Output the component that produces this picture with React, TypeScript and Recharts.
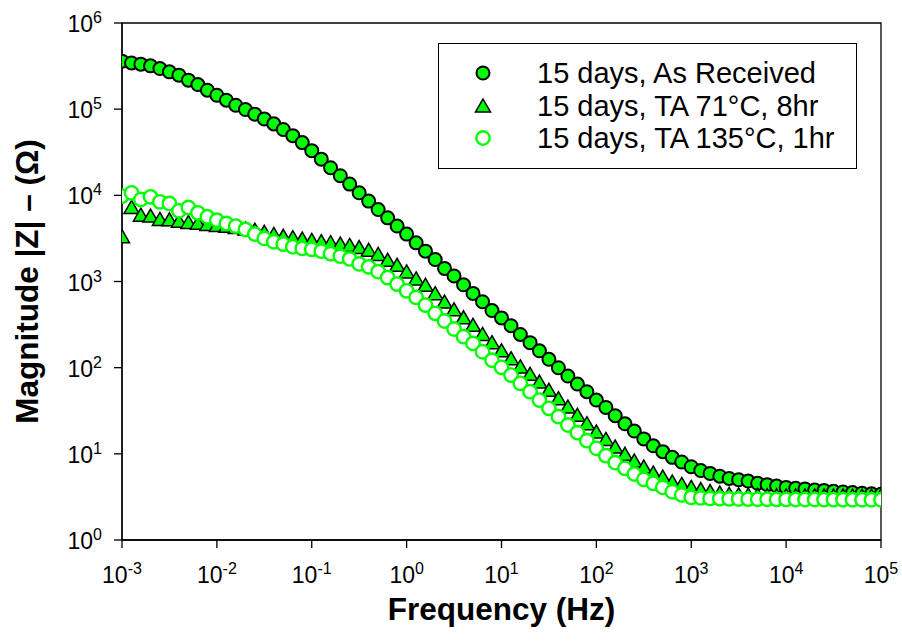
import React from 'react';
import {
  ScatterChart,
  Scatter,
  XAxis,
  YAxis,
  ReferenceArea,
  Legend,
} from 'recharts';

const FONT = '"Liberation Sans", Arial, sans-serif';

// frequency sweep, 10 points per decade (Hz)
const freqHz = [
  1e-3, 1.26e-3, 1.58e-3, 2e-3, 2.51e-3, 3.16e-3, 3.98e-3, 5.01e-3, 6.31e-3, 7.94e-3,
  1e-2, 1.26e-2, 1.58e-2, 2e-2, 2.51e-2, 3.16e-2, 3.98e-2, 5.01e-2, 6.31e-2, 7.94e-2,
  1e-1, 1.26e-1, 1.58e-1, 2e-1, 2.51e-1, 3.16e-1, 3.98e-1, 5.01e-1, 6.31e-1, 7.94e-1,
  1, 1.26, 1.58, 2, 2.51, 3.16, 3.98, 5.01, 6.31, 7.94,
  10, 12.6, 15.8, 20, 25.1, 31.6, 39.8, 50.1, 63.1, 79.4,
  100, 126, 158, 200, 251, 316, 398, 501, 631, 794,
  1e3, 1.26e3, 1.58e3, 2e3, 2.51e3, 3.16e3, 3.98e3, 5.01e3, 6.31e3, 7.94e3,
  1e4, 1.26e4, 1.58e4, 2e4, 2.51e4, 3.16e4, 3.98e4, 5.01e4, 6.31e4, 7.94e4,
  1e5,
];

// |Z| in ohm
const asReceived = [
  361000, 344000, 333000, 318000, 296000, 271000, 248000, 217000, 193000, 166000,
  145000, 127000, 111000, 99100, 87500, 77100, 67500, 58100, 49300, 40900,
  33000, 26300, 20900, 16900, 13500, 10700, 8570, 6850, 5480, 4400,
  3550, 2810, 2250, 1800, 1420, 1160, 916, 728, 582, 460,
  378, 307, 243, 195, 157, 125, 99.8, 80.0, 64.6, 52.6,
  42.1, 34.6, 27.7, 22.3, 18.4, 14.9, 12.4, 10.6, 9.1, 8.04,
  7.08, 6.4, 5.93, 5.5, 5.18, 5.01, 4.83, 4.55, 4.39, 4.23,
  4.08, 3.98, 3.91, 3.8, 3.76, 3.68, 3.61, 3.55, 3.49, 3.44,
  3.39,
];

const ta71 = [
  3310, 7240, 5890, 5750, 5250, 5200, 5000, 4850, 4750, 4600,
  4480, 4370, 4220, 4080, 3940, 3720, 3520, 3350, 3220, 3110,
  3000, 2900, 2820, 2720, 2620, 2480, 2300, 2060, 1760, 1540,
  1290, 1070, 902, 721, 577, 470, 379, 310, 243, 195,
  157, 127, 102, 83.6, 68.1, 54.6, 43.7, 34.9, 28.0, 22.4,
  17.9, 14.7, 12.0, 9.87, 8.24, 7.03, 5.98, 5.38, 4.71, 4.42,
  4.07, 3.85, 3.65, 3.51, 3.39, 3.35, 3.31, 3.3, 3.27, 3.26,
  3.25, 3.25, 3.24, 3.24, 3.23, 3.23, 3.23, 3.22, 3.22, 3.22,
  3.23,
];

const ta135 = [
  9790, 10700, 8950, 9620, 8410, 8050, 6610, 7230, 6270, 5640,
  5150, 4720, 4400, 4020, 3550, 3160, 2890, 2720, 2530, 2420,
  2360, 2250, 2100, 1970, 1830, 1600, 1480, 1300, 1110, 933,
  780, 653, 532, 427, 348, 281, 229, 191, 153, 122,
  101, 82.0, 65.8, 52.6, 42.1, 33.7, 27.0, 21.6, 17.6, 14.2,
  11.6, 9.53, 7.89, 6.79, 5.83, 5.06, 4.55, 4.08, 3.63, 3.33,
  3.13, 3.08, 3.04, 3.02, 3.0, 2.99, 2.98, 2.97, 2.97, 2.96,
  2.96, 2.95, 2.95, 2.95, 2.94, 2.94, 2.94, 2.93, 2.93, 2.93,
  2.93,
];

const seriesNames = [
  '15 days, As Received',
  '15 days, TA 71°C, 8hr',
  '15 days, TA 135°C, 1hr',
];

const xTicks = [1e-3, 1e-2, 1e-1, 1, 10, 100, 1e3, 1e4, 1e5];
const yTicks = [1, 10, 100, 1e3, 1e4, 1e5, 1e6];

const toPoints = (vals: number[]) => vals.map((z, i) => ({ f: freqHz[i], z }));

const GREEN = '#00ff00';

const FilledCircle = (props: any) => (
  <circle cx={props.cx} cy={props.cy} r={6.5} fill={GREEN} stroke="#000" strokeWidth={2} />
);

const Triangle = (props: any) => {
  const { cx, cy } = props;
  return (
    <polygon
      points={`${cx},${cy - 7} ${cx + 7.5},${cy + 6} ${cx - 7.5},${cy + 6}`}
      fill={GREEN}
      stroke="#000"
      strokeWidth={1.5}
      strokeLinejoin="miter"
    />
  );
};

const OpenCircle = (props: any) => (
  <circle cx={props.cx} cy={props.cy} r={6.7} fill="#fff" stroke={GREEN} strokeWidth={2.4} />
);

const markers = [FilledCircle, Triangle, OpenCircle];

function XTick({ x, y, payload }: any) {
  const e = Math.round(Math.log10(payload.value));
  return (
    <text x={x} y={y + 33} textAnchor="middle" fontSize={23} fontFamily={FONT} fill="#000">
      <tspan>10</tspan>
      <tspan dy={-9} fontSize={16}>{e}</tspan>
    </text>
  );
}

function YTick({ x, y, payload }: any) {
  const e = Math.round(Math.log10(payload.value));
  return (
    <text x={x} y={y + 9} textAnchor="end" fontSize={23} fontFamily={FONT} fill="#000">
      <tspan>10</tspan>
      <tspan dy={-9} fontSize={16}>{e}</tspan>
    </text>
  );
}

function LegendBox() {
  return (
    <div
      style={{
        width: 419,
        height: 126,
        boxSizing: 'border-box',
        border: '1.3px solid #000',
        background: '#fff',
        position: 'relative',
        fontFamily: FONT,
        fontSize: 29,
        color: '#000',
      }}
    >
      {seriesNames.map((name, i) => {
        const Marker = markers[i];
        return (
          <div
            key={name}
            style={{ position: 'absolute', left: 0, top: 13 + i * 32.5, height: 32, width: '100%' }}
          >
            <svg width={24} height={24} style={{ position: 'absolute', left: 32, top: 4 }}>
              <Marker cx={12} cy={12} />
            </svg>
            <span style={{ position: 'absolute', left: 98, top: 0, lineHeight: '32px', whiteSpace: 'nowrap' }}>
              {name}
            </span>
          </div>
        );
      })}
    </div>
  );
}

export default function App() {
  return (
    <div style={{ position: 'absolute', left: 0, top: 0, background: '#fff' }}>
      <ScatterChart width={902} height={642} margin={{ top: 23, right: 21, bottom: 12, left: 12 }}>
        <XAxis
          type="number"
          dataKey="f"
          scale="log"
          domain={[1e-3, 1e5]}
          ticks={xTicks}
          interval={0}
          allowDataOverflow
          height={90}
          tickSize={8}
          tick={<XTick />}
          stroke="#000"
          strokeWidth={1.3}
          label={{
            value: 'Frequency (Hz)',
            position: 'insideBottom',
            offset: 10,
            style: { fontFamily: FONT, fontSize: 31.5, fontWeight: 'bold', fill: '#000' },
          }}
        />
        <YAxis
          type="number"
          dataKey="z"
          scale="log"
          domain={[1, 1e6]}
          ticks={yTicks}
          interval={0}
          allowDataOverflow
          width={110}
          tickSize={8}
          tickMargin={12}
          tick={<YTick />}
          stroke="#000"
          strokeWidth={1.3}
          label={{
            value: 'Magnitude |Z| – (Ω)',
            angle: -90,
            position: 'insideLeft',
            offset: 15,
            style: { textAnchor: 'middle', fontFamily: FONT, fontSize: 31.5, fontWeight: 'bold', fill: '#000' },
          }}
        />
        <ReferenceArea x1={1e-3} x2={1e5} y1={1} y2={1e6} fill="none" stroke="#000" strokeWidth={1.3} />
        <Legend
          layout="vertical"
          align="center"
          verticalAlign="middle"
          content={<LegendBox />}
          wrapperStyle={{ left: 438, top: 43, width: 419, height: 126 }}
        />
        <Scatter name={seriesNames[0]} data={toPoints(asReceived)} shape={<FilledCircle />} isAnimationActive={false} />
        <Scatter name={seriesNames[1]} data={toPoints(ta71)} shape={<Triangle />} isAnimationActive={false} />
        <Scatter name={seriesNames[2]} data={toPoints(ta135)} shape={<OpenCircle />} isAnimationActive={false} />
      </ScatterChart>
    </div>
  );
}
